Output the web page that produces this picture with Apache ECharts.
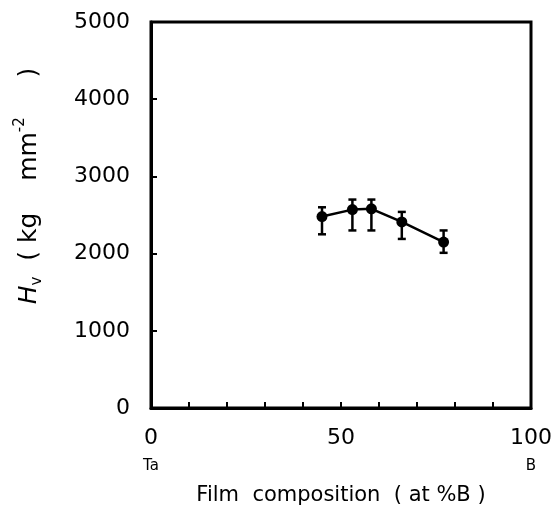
<!DOCTYPE html>
<html>
<head>
    <meta charset="utf-8">
    <title>Hv vs film composition</title>
</head>
<body style="margin:0;">
<div id="main" style="width: 556px;height:513px;"></div>
<script src="https://cdn.jsdelivr.net/npm/echarts@6/dist/echarts.min.js"></script>
<script type="text/javascript">
// data
var composition = [45, 53, 58, 66, 77];
var hardness = [2480, 2570, 2580, 2410, 2150];
var errHigh = [2600, 2700, 2700, 2540, 2300];
var errLow = [2250, 2300, 2300, 2190, 2010];
var xTickLabels = {0: '0\n{el|Ta}', 50: '50', 100: '100\n{el|B}'};

var myChart = echarts.init(document.getElementById('main'));

var font = 'DejaVu Sans';

var lineData = [];
var barData = [];
for (var i = 0; i < composition.length; i++) {
    lineData.push([composition[i], hardness[i]]);
    barData.push([composition[i], errLow[i], errHigh[i]]);
}

var option = {
    animation: false,
    backgroundColor: '#fff',
    grid: {
        left: 151, right: 25, top: 22, bottom: 105,
        show: true, borderColor: '#000', borderWidth: 3
    },
    xAxis: {
        type: 'value', min: 0, max: 100, interval: 10,
        name: 'Film  composition  ( at %B )',
        nameLocation: 'middle', nameGap: 74,
        nameTextStyle: { fontFamily: font, fontSize: 21, color: '#000' },
        axisLine: { lineStyle: { color: '#000', width: 3 } },
        axisTick: { inside: true, length: 6, lineStyle: { color: '#000', width: 2 } },
        splitLine: { show: false },
        axisLabel: {
            margin: 16, fontFamily: font, fontSize: 22, color: '#000', lineHeight: 28,
            formatter: function (v) { return xTickLabels[v] || ''; },
            rich: { el: { fontFamily: font, fontSize: 15, color: '#000', lineHeight: 28 } }
        }
    },
    yAxis: {
        type: 'value', min: 0, max: 5000, interval: 1000,
        name: '{i|H}{sub|v}{n|  ( kg    mm}{sup|-2}{n|     )}',
        nameLocation: 'middle', nameGap: 106, nameRotate: 90,
        nameTextStyle: {
            color: '#000',
            padding: [0, 0, 0, 58],
            rich: {
                i: { fontFamily: font, fontSize: 25, fontStyle: 'italic', color: '#000', lineHeight: 32 },
                n: { fontFamily: font, fontSize: 25, color: '#000', lineHeight: 32 },
                sub: { fontFamily: font, fontSize: 15, color: '#000', verticalAlign: 'bottom', lineHeight: 32 },
                sup: { fontFamily: font, fontSize: 15, color: '#000', verticalAlign: 'top', lineHeight: 32 }
            }
        },
        axisLine: { lineStyle: { color: '#000', width: 3 } },
        axisTick: { inside: true, length: 6, lineStyle: { color: '#000', width: 2 } },
        splitLine: { show: false },
        axisLabel: {
            margin: 21, fontFamily: font, fontSize: 22, color: '#000',
            formatter: function (v) { return String(v); }
        }
    },
    series: [{
        type: 'line',
        data: lineData,
        symbol: 'circle', symbolSize: 11,
        lineStyle: { color: '#000', width: 2.5 },
        itemStyle: { color: '#000' },
        z: 3
    }, {
        type: 'custom',
        data: barData,
        renderItem: function (params, api) {
            var lo = api.coord([api.value(0), api.value(1)]);
            var hi = api.coord([api.value(0), api.value(2)]);
            var w = 4;
            var st = { stroke: '#000', lineWidth: 2.5 };
            return {
                type: 'group',
                children: [
                    { type: 'line', shape: { x1: lo[0], y1: lo[1], x2: hi[0], y2: hi[1] }, style: st },
                    { type: 'line', shape: { x1: lo[0] - w, y1: lo[1], x2: lo[0] + w, y2: lo[1] }, style: st },
                    { type: 'line', shape: { x1: hi[0] - w, y1: hi[1], x2: hi[0] + w, y2: hi[1] }, style: st }
                ]
            };
        },
        z: 2
    }]
};

myChart.setOption(option);
</script>
</body>
</html>
